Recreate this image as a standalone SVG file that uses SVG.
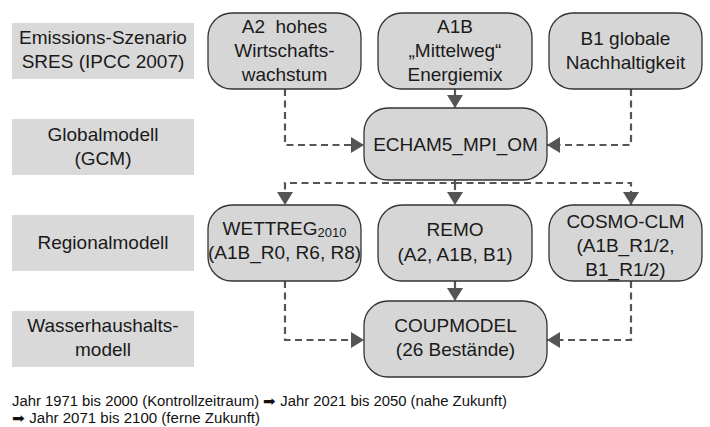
<svg xmlns="http://www.w3.org/2000/svg" width="710" height="427" viewBox="0 0 710 427">
<defs>
<style>
.lbl{fill:#d9d9d9;stroke:none}
.node{fill:#d6d6d6;stroke:#333;stroke-width:1.3}
text{font-family:"Liberation Sans",Arial,sans-serif;font-size:19px;fill:#1a1a1a;text-anchor:middle}
.cap{font-size:13.8px;text-anchor:start;fill:#111}
.con{fill:none;stroke:#555;stroke-width:2.2;stroke-dasharray:7 4.5}
</style>
<marker id="ah" markerUnits="userSpaceOnUse" markerWidth="14" markerHeight="16" refX="13" refY="8" orient="auto" viewBox="0 0 14 16">
<path d="M0,0 L13,8 L0,16 z" fill="#555"/>
</marker>
</defs>
<g id="label-emission"><rect class="lbl" x="12" y="23" width="182" height="56"/><text x="103" y="44">Emissions-Szenario</text><text x="103" y="68">SRES (IPCC 2007)</text></g>
<g id="label-global"><rect class="lbl" x="12" y="119" width="182" height="56"/><text x="103" y="141">Globalmodell</text><text x="103" y="165">(GCM)</text></g>
<g id="label-regional"><rect class="lbl" x="12" y="215" width="182" height="56"/><text x="103" y="249">Regionalmodell</text></g>
<g id="label-wasser"><rect class="lbl" x="12" y="311" width="182" height="56"/><text x="103" y="332">Wasserhaushalts-</text><text x="103" y="356">modell</text></g>

<g id="connectors">
<path class="con" d="M285,89 V145 H364" marker-end="url(#ah)"/>
<path class="con" d="M455,89 V108" marker-end="url(#ah)"/>
<path class="con" d="M631,89 V145 H547" marker-end="url(#ah)"/>
<path class="con" d="M455,180 V183 H285 V205" marker-end="url(#ah)"/>
<path class="con" d="M455,183 V205" marker-end="url(#ah)"/>
<path class="con" d="M455,183 H631 V205" marker-end="url(#ah)"/>
<path class="con" d="M285,281 V340 H364" marker-end="url(#ah)"/>
<path class="con" d="M455,281 V301" marker-end="url(#ah)"/>
<path class="con" d="M631,281 V340 H547" marker-end="url(#ah)"/>
</g>

<g id="node-a2"><rect class="node" x="208" y="13" width="153" height="76" rx="24"/><text x="284.5" y="33" xml:space="preserve">A2  hohes</text><text x="284.5" y="57">Wirtschafts-</text><text x="284.5" y="81">wachstum</text></g>
<g id="node-a1b"><rect class="node" x="378" y="13" width="154" height="76" rx="24"/><text x="455" y="33">A1B</text><text x="455" y="57">„Mittelweg“</text><text x="455" y="81">Energiemix</text></g>
<g id="node-b1"><rect class="node" x="549" y="13" width="153" height="76" rx="24"/><text x="625.5" y="45">B1 globale</text><text x="625.5" y="69">Nachhaltigkeit</text></g>
<g id="node-echam"><rect class="node" x="364" y="108" width="183" height="72" rx="24"/><text x="455.5" y="151">ECHAM5_MPI_OM</text></g>
<g id="node-wettreg"><rect class="node" x="208" y="205" width="153" height="76" rx="24"/><text x="284.5" y="235">WETTREG<tspan font-size="13" dy="2">2010</tspan></text><text x="284.5" y="259">(A1B_R0, R6, R8)</text></g>
<g id="node-remo"><rect class="node" x="378" y="205" width="154" height="76" rx="24"/><text x="455" y="236">REMO</text><text x="455" y="261">(A2, A1B, B1)</text></g>
<g id="node-cosmo"><rect class="node" x="549" y="205" width="153" height="76" rx="24"/><text x="625.5" y="228">COSMO-CLM</text><text x="625.5" y="252">(A1B_R1/2,</text><text x="625.5" y="276">B1_R1/2)</text></g>
<g id="node-coup"><rect class="node" x="364" y="301" width="183" height="76" rx="24"/><text x="455.5" y="332">COUPMODEL</text><text x="455.5" y="356">(26 Bestände)</text></g>

<text class="cap" x="12" y="406" textLength="495" lengthAdjust="spacingAndGlyphs">Jahr 1971 bis 2000 (Kontrollzeitraum) ➡ Jahr 2021 bis 2050 (nahe Zukunft)</text>
<text class="cap" x="12" y="422.5" textLength="248" lengthAdjust="spacingAndGlyphs">➡ Jahr 2071 bis 2100 (ferne Zukunft)</text>
</svg>
